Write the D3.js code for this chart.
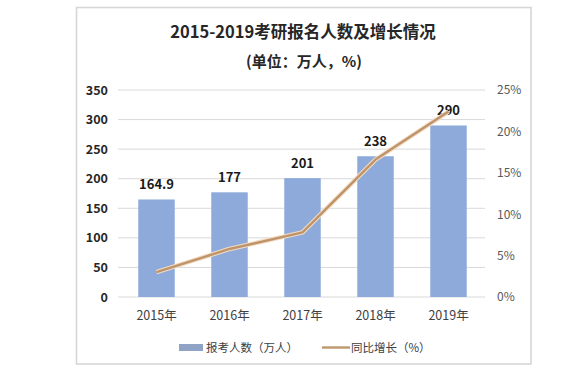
<!DOCTYPE html>
<html><head><meta charset="utf-8">
<script src="https://cdn.jsdelivr.net/npm/d3@7/dist/d3.min.js"></script>
<style>html,body{margin:0;padding:0;background:#fff;}svg{display:block;}</style>
</head><body>
<script>
const years = ["2015年","2016年","2017年","2018年","2019年"];
const applicants = [164.9, 177, 201, 238, 290];
const applicantLabels = ["164.9","177","201","238","290"];
const growthPct = [3.0, 5.8, 7.8, 16.6, 22.4];
const leftTicks = [0,50,100,150,200,250,300,350];
const rightTicks = [0,5,10,15,20,25];
const titleText = "2015-2019考研报名人数及增长情况";
const subtitleText = "(单位：万人，%)";
const legendBar = "报考人数（万人）";
const legendLine = "同比增长（%）";

const W = 575, H = 368;
const font = "'Noto Sans CJK SC','Noto Sans',sans-serif";
const svg = d3.select("body").append("svg").attr("width", W).attr("height", H);
svg.append("rect").attr("width", W).attr("height", H).attr("fill", "#fff");

// frame
svg.append("rect").attr("x", 76.5).attr("y", 7.5).attr("width", 454.5).attr("height", 356.5)
  .attr("fill", "none").attr("stroke", "#d6d6d6").attr("stroke-width", 1.6);

const x = d3.scaleBand().domain(years).range([120, 485]).paddingInner(0.5).paddingOuter(0.25);
const y = d3.scaleLinear().domain([0, 350]).range([297, 90]);
const y2 = d3.scaleLinear().domain([0, 25]).range([297, 90]);

// gridlines
svg.append("g").selectAll("line").data(leftTicks).join("line")
  .attr("x1", 118).attr("x2", 485)
  .attr("y1", d => y(d)).attr("y2", d => y(d))
  .attr("stroke", "#d9d9d9").attr("stroke-width", 1);

// left axis labels
const gl = svg.append("g").attr("transform", "translate(108,0)")
  .call(d3.axisLeft(y).tickValues(leftTicks).tickSize(0).tickPadding(0));
gl.select(".domain").remove();
gl.selectAll("text").attr("font-family", font).attr("font-size", 12.5).attr("font-weight", "bold").attr("fill", "#262626");

// right axis labels
const gr = svg.append("g").attr("transform", "translate(497,0)")
  .call(d3.axisRight(y2).tickValues(rightTicks).tickSize(0).tickPadding(0).tickFormat(d => d + "%"));
gr.select(".domain").remove();
gr.selectAll("text").attr("font-family", font).attr("font-size", 12).attr("fill", "#595959");

// x axis labels
const gx = svg.append("g").attr("transform", "translate(0,311)")
  .call(d3.axisBottom(x).tickSize(0).tickPadding(0));
gx.select(".domain").remove();
gx.selectAll("text").attr("font-family", font).attr("font-size", 12.5).attr("fill", "#404040");

// bars
svg.append("g").selectAll("rect").data(applicants).join("rect")
  .attr("x", (d, i) => x(years[i])).attr("width", x.bandwidth())
  .attr("y", d => y(d)).attr("height", d => y(0) - y(d))
  .attr("fill", "#8eaadb");

// value labels
svg.append("g").selectAll("text").data(applicants).join("text")
  .attr("x", (d, i) => x(years[i]) + x.bandwidth() / 2)
  .attr("y", d => y(d) - 10)
  .attr("text-anchor", "middle")
  .attr("font-family", font).attr("font-size", 13).attr("font-weight", "bold").attr("fill", "#1a1a1a")
  .text((d, i) => applicantLabels[i]);

// line
const line = d3.line().x((d, i) => x(years[i]) + x.bandwidth() / 2).y(d => y2(d));
svg.append("path").datum(growthPct).attr("d", line)
  .attr("fill", "none").attr("stroke", "#f3dcc3").attr("stroke-width", 4.5).attr("stroke-linejoin", "round");
svg.append("path").datum(growthPct).attr("d", line)
  .attr("fill", "none").attr("stroke", "#bf946a").attr("stroke-width", 2.4).attr("stroke-linejoin", "round");

// title
svg.append("text").attr("x", 303).attr("y", 38).attr("text-anchor", "middle")
  .attr("font-family", font).attr("font-size", 16.5).attr("font-weight", "bold").attr("fill", "#262626")
  .text(titleText);
svg.append("text").attr("x", 304).attr("y", 67).attr("text-anchor", "middle")
  .attr("font-family", font).attr("font-size", 15).attr("font-weight", "bold").attr("fill", "#262626")
  .text(subtitleText);

// legend
const lg = svg.append("g");
lg.append("rect").attr("x", 179).attr("y", 344).attr("width", 24).attr("height", 7).attr("fill", "#8fa3c6");
lg.append("text").attr("x", 206).attr("y", 351.5).attr("font-family", font).attr("font-size", 11.5).attr("fill", "#404040").text(legendBar);
lg.append("line").attr("x1", 322).attr("x2", 350).attr("y1", 347.5).attr("y2", 347.5).attr("stroke", "#c09a72").attr("stroke-width", 2.5);
lg.append("text").attr("x", 351).attr("y", 351.5).attr("font-family", font).attr("font-size", 11.5).attr("fill", "#404040").text(legendLine);
</script>
</body></html>
